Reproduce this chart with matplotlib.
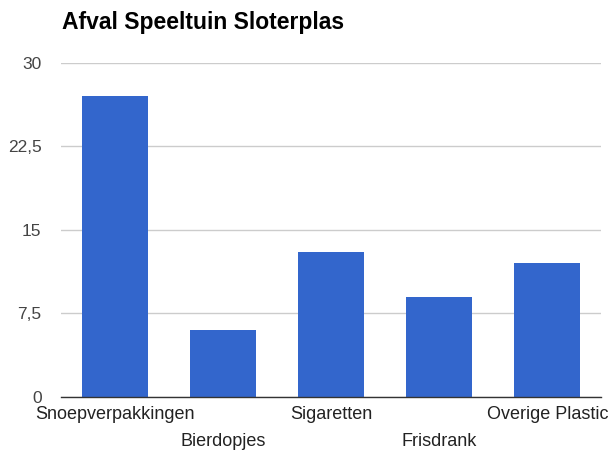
import matplotlib
matplotlib.use('Agg')
import matplotlib.pyplot as plt

categories = ['Snoepverpakkingen', 'Bierdopjes', 'Sigaretten', 'Frisdrank', 'Overige Plastic']
values = [27, 6, 13, 9, 12]
yticks = [0, 7.5, 15, 22.5, 30]
ytick_labels = ['0', '7,5', '15', '22,5', '30']

plt.rcParams['font.family'] = ['Liberation Sans', 'DejaVu Sans']

fig = plt.figure(figsize=(6.08, 4.5), dpi=100)
ax = fig.add_axes([0.1003, 0.1178, 0.8887, 0.7422])

x = range(len(categories))
ax.bar(x, values, width=0.61, color='#3366cc', zorder=3)

ax.set_xlim(-0.5, len(categories) - 0.5)
ax.set_ylim(0, 30)
ax.set_yticks(yticks)
ax.set_yticklabels(ytick_labels, fontsize=12.5, color='#444444')
ax.tick_params(axis='y', length=0, pad=14)
ax.grid(axis='y', color='#cccccc', linewidth=1, zorder=0)

ax.set_xticks(list(x))
ax.set_xticklabels([])
ax.tick_params(axis='x', length=0)
# staggered category labels, like the original
for i, name in enumerate(categories):
    offset = 9 if i % 2 == 0 else 36
    ax.annotate(name, xy=(i, 0), xycoords='data', xytext=(0, -offset),
                textcoords='offset pixels', ha='center', va='top',
                fontsize=13, color='#222222', annotation_clip=False)

for s in ['top', 'right', 'left']:
    ax.spines[s].set_visible(False)
ax.spines['bottom'].set_color('#333333')
ax.spines['bottom'].set_linewidth(1)
ax.spines['bottom'].set_zorder(4)

fig.text(0.102, 0.95, 'Afval Speeltuin Sloterplas', fontsize=16.5,
         fontweight='bold', ha='left', va='center', color='#000000')

fig.savefig('out.png', dpi=100)
